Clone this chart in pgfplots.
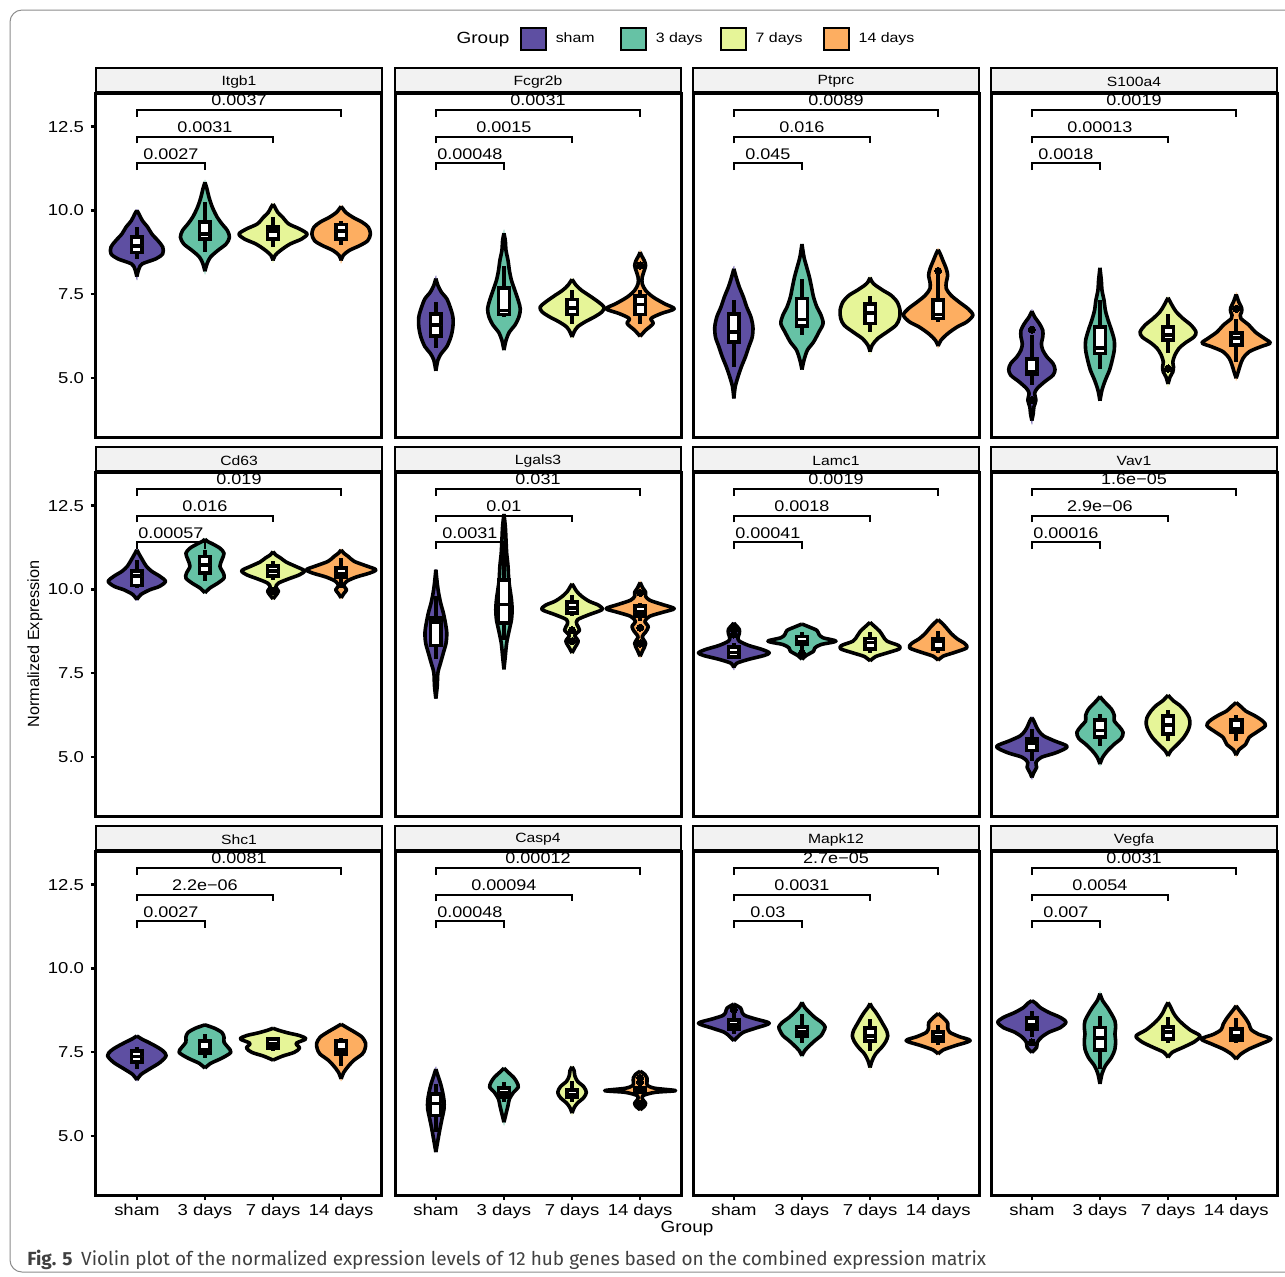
\documentclass[border=0pt]{standalone}
\usepackage{fontspec}
\setmainfont[FakeStretch=1.17]{Liberation Sans}
\newfontfamily\plainsans{Liberation Sans}
\newfontfamily\capfont{Fira Sans}
\usepackage{pgfplots}
\pgfplotsset{compat=1.18}
\usepackage{pgfplotstable}
\usepgfplotslibrary{statistics}

\definecolor{cSham}{HTML}{5E4FA2}
\definecolor{cThree}{HTML}{66C2A5}
\definecolor{cSeven}{HTML}{E6F598}
\definecolor{cFourteen}{HTML}{FDAE61}
\definecolor{stripbg}{RGB}{242,242,242}

\newcommand\ticktext{\fontsize{7.9}{9}\selectfont}
\newcommand\titletext{\fontsize{8.1}{9.5}\selectfont}
\newcommand\striptext{\fontsize{6.7}{8}\selectfont}
\newcommand\ptext{\fontsize{7.7}{9}\selectfont}
\newcommand\legtext{\fontsize{6.8}{8}\selectfont}

% violin profiles: group g, expression value v, half width w (x units)
\pgfplotstableread[row sep=\\]{g v w\\
1 8.03 0\\ 1 8.26 0.03\\ 1 8.41 0.08\\ 1 8.56 0.28\\ 1 8.71 0.38\\ 1 8.91 0.38\\ 1 9.10 0.31\\ 1 9.30 0.22\\ 1 9.50 0.16\\ 1 9.70 0.08\\ 1 9.90 0.03\\ 1 10.0 0\\
2 8.19 0\\ 2 8.41 0.03\\ 2 8.61 0.08\\ 2 8.81 0.19\\ 2 9.0 0.31\\ 2 9.20 0.36\\ 2 9.40 0.33\\ 2 9.60 0.25\\ 2 9.80 0.18\\ 2 10.09 0.11\\ 2 10.39 0.06\\ 2 10.64 0.03\\ 2 10.84 0\\
3 8.51 0\\ 3 8.66 0.03\\ 3 8.81 0.11\\ 3 9.0 0.25\\ 3 9.15 0.42\\ 3 9.30 0.50\\ 3 9.45 0.39\\ 3 9.60 0.23\\ 3 9.80 0.14\\ 3 9.94 0.07\\ 3 10.09 0.03\\ 3 10.19 0\\
4 8.51 0\\ 4 8.66 0.03\\ 4 8.81 0.12\\ 4 8.96 0.28\\ 4 9.10 0.39\\ 4 9.30 0.43\\ 4 9.50 0.40\\ 4 9.65 0.31\\ 4 9.80 0.17\\ 4 9.94 0.07\\ 4 10.04 0.03\\ 4 10.12 0\\
}\tItgb

\pgfplotstableread[row sep=\\]{g v w\\
1 5.22 0\\ 1 5.54 0.03\\ 1 5.74 0.08\\ 1 5.94 0.16\\ 1 6.23 0.22\\ 1 6.53 0.25\\ 1 6.83 0.25\\ 1 7.12 0.21\\ 1 7.37 0.16\\ 1 7.57 0.08\\ 1 7.77 0.03\\ 1 7.97 0\\
2 5.84 0\\ 2 6.13 0.03\\ 2 6.38 0.08\\ 2 6.58 0.16\\ 2 6.83 0.22\\ 2 7.07 0.24\\ 2 7.32 0.21\\ 2 7.62 0.16\\ 2 7.92 0.11\\ 2 8.21 0.08\\ 2 8.51 0.06\\ 2 8.81 0.03\\ 2 9.10 0.02\\ 2 9.32 0\\
3 6.23 0\\ 3 6.38 0.03\\ 3 6.53 0.08\\ 3 6.68 0.19\\ 3 6.83 0.33\\ 3 6.98 0.44\\ 3 7.12 0.47\\ 3 7.27 0.39\\ 3 7.47 0.25\\ 3 7.62 0.14\\ 3 7.77 0.06\\ 3 7.95 0\\
4 6.25 0\\ 4 6.43 0.08\\ 4 6.63 0.19\\ 4 6.78 0.16\\ 4 6.93 0.31\\ 4 7.07 0.5\\ 4 7.22 0.36\\ 4 7.42 0.19\\ 4 7.62 0.08\\ 4 7.82 0.03\\ 4 8.01 0.03\\ 4 8.21 0.06\\ 4 8.36 0.08\\ 4 8.51 0.06\\ 4 8.66 0.02\\ 4 8.76 0\\
}\tFcgr

\pgfplotstableread[row sep=\\]{g v w\\
1 4.40 0\\ 1 4.75 0.02\\ 1 5.04 0.06\\ 1 5.34 0.11\\ 1 5.64 0.17\\ 1 5.94 0.22\\ 1 6.23 0.27\\ 1 6.53 0.28\\ 1 6.83 0.25\\ 1 7.12 0.19\\ 1 7.42 0.14\\ 1 7.72 0.08\\ 1 7.97 0.04\\ 1 8.26 0\\
2 5.26 0\\ 2 5.54 0.03\\ 2 5.84 0.08\\ 2 6.08 0.17\\ 2 6.38 0.25\\ 2 6.63 0.31\\ 2 6.88 0.28\\ 2 7.12 0.22\\ 2 7.42 0.17\\ 2 7.72 0.14\\ 2 8.01 0.11\\ 2 8.31 0.07\\ 2 8.61 0.03\\ 2 9.0 0\\
3 5.79 0\\ 3 5.98 0.03\\ 3 6.18 0.11\\ 3 6.38 0.25\\ 3 6.58 0.38\\ 3 6.78 0.43\\ 3 7.02 0.44\\ 3 7.27 0.40\\ 3 7.47 0.31\\ 3 7.62 0.19\\ 3 7.77 0.08\\ 3 7.87 0.03\\ 3 8.0 0\\
4 5.96 0\\ 4 6.13 0.04\\ 4 6.33 0.14\\ 4 6.53 0.28\\ 4 6.68 0.42\\ 4 6.88 0.51\\ 4 7.07 0.44\\ 4 7.27 0.31\\ 4 7.47 0.19\\ 4 7.67 0.12\\ 4 7.87 0.12\\ 4 8.06 0.14\\ 4 8.26 0.12\\ 4 8.51 0.07\\ 4 8.71 0.03\\ 4 8.83 0\\
}\tPtprc

\pgfplotstableread[row sep=\\]{g v w\\
1 3.74 0\\ 1 3.95 0.02\\ 1 4.15 0.03\\ 1 4.35 0.06\\ 1 4.55 0.04\\ 1 4.70 0.08\\ 1 4.90 0.19\\ 1 5.09 0.31\\ 1 5.26 0.34\\ 1 5.44 0.31\\ 1 5.64 0.22\\ 1 5.84 0.16\\ 1 6.03 0.14\\ 1 6.23 0.16\\ 1 6.43 0.16\\ 1 6.63 0.11\\ 1 6.83 0.04\\ 1 7.0 0\\
2 4.33 0\\ 2 4.65 0.03\\ 2 4.95 0.08\\ 2 5.24 0.14\\ 2 5.54 0.18\\ 2 5.84 0.21\\ 2 6.13 0.21\\ 2 6.43 0.17\\ 2 6.73 0.12\\ 2 7.02 0.08\\ 2 7.32 0.06\\ 2 7.62 0.03\\ 2 7.92 0.02\\ 2 8.29 0\\
3 4.83 0\\ 3 5.04 0.03\\ 3 5.19 0.07\\ 3 5.34 0.08\\ 3 5.49 0.07\\ 3 5.69 0.1\\ 3 5.89 0.16\\ 3 6.05 0.25\\ 3 6.23 0.38\\ 3 6.38 0.41\\ 3 6.58 0.34\\ 3 6.78 0.22\\ 3 6.98 0.12\\ 3 7.17 0.06\\ 3 7.4 0\\
4 5.0 0\\ 4 5.19 0.03\\ 4 5.39 0.06\\ 4 5.59 0.1\\ 4 5.79 0.19\\ 4 5.94 0.36\\ 4 6.05 0.5\\ 4 6.18 0.42\\ 4 6.38 0.28\\ 4 6.58 0.19\\ 4 6.78 0.07\\ 4 6.88 0.06\\ 4 6.98 0.08\\ 4 7.10 0.08\\ 4 7.27 0.04\\ 4 7.5 0\\
}\tSoo

\pgfplotstableread[row sep=\\]{g v w\\
1 9.70 0\\ 1 9.85 0.06\\ 1 9.99 0.19\\ 1 10.09 0.33\\ 1 10.24 0.42\\ 1 10.39 0.34\\ 1 10.54 0.22\\ 1 10.69 0.14\\ 1 10.89 0.08\\ 1 11.03 0.04\\ 1 11.18 0\\
2 9.90 0\\ 2 10.04 0.07\\ 2 10.19 0.19\\ 2 10.34 0.28\\ 2 10.49 0.27\\ 2 10.69 0.22\\ 2 10.89 0.25\\ 2 11.08 0.28\\ 2 11.23 0.22\\ 2 11.36 0.11\\ 2 11.43 0.04\\ 2 11.5 0\\
3 9.72 0\\ 3 9.82 0.04\\ 3 9.95 0.08\\ 3 10.07 0.04\\ 3 10.19 0.08\\ 3 10.31 0.22\\ 3 10.44 0.39\\ 3 10.56 0.46\\ 3 10.69 0.33\\ 3 10.82 0.19\\ 3 10.94 0.11\\ 3 11.03 0.04\\ 3 11.13 0\\
4 9.75 0\\ 4 9.88 0.04\\ 4 9.99 0.08\\ 4 10.11 0.04\\ 4 10.24 0.08\\ 4 10.37 0.22\\ 4 10.49 0.42\\ 4 10.59 0.51\\ 4 10.71 0.36\\ 4 10.84 0.19\\ 4 10.99 0.1\\ 4 11.08 0.04\\ 4 11.18 0\\
}\tCd

\pgfplotstableread[row sep=\\]{g v w\\
1 6.75 0\\ 1 7.12 0.02\\ 1 7.52 0.03\\ 1 7.82 0.07\\ 1 8.11 0.11\\ 1 8.41 0.15\\ 1 8.71 0.16\\ 1 9.0 0.14\\ 1 9.30 0.11\\ 1 9.60 0.07\\ 1 9.90 0.04\\ 1 10.19 0.02\\ 1 10.59 0\\
2 7.62 0\\ 2 8.01 0.02\\ 2 8.41 0.04\\ 2 8.81 0.08\\ 2 9.10 0.11\\ 2 9.40 0.12\\ 2 9.70 0.11\\ 2 9.99 0.09\\ 2 10.29 0.07\\ 2 10.69 0.06\\ 2 11.08 0.04\\ 2 11.48 0.03\\ 2 11.88 0.02\\ 2 12.25 0\\
3 8.11 0\\ 3 8.26 0.04\\ 3 8.46 0.09\\ 3 8.63 0.04\\ 3 8.79 0.11\\ 3 8.96 0.07\\ 3 9.10 0.08\\ 3 9.25 0.25\\ 3 9.40 0.44\\ 3 9.53 0.39\\ 3 9.65 0.25\\ 3 9.80 0.14\\ 3 9.94 0.07\\ 3 10.07 0.03\\ 3 10.17 0\\
4 8.01 0\\ 4 8.19 0.04\\ 4 8.39 0.08\\ 4 8.59 0.03\\ 4 8.73 0.08\\ 4 8.89 0.12\\ 4 9.05 0.07\\ 4 9.20 0.14\\ 4 9.32 0.33\\ 4 9.43 0.5\\ 4 9.55 0.33\\ 4 9.68 0.14\\ 4 9.80 0.08\\ 4 9.92 0.08\\ 4 10.04 0.04\\ 4 10.21 0\\
}\tLgals

\pgfplotstableread[row sep=\\]{g v w\\
1 7.67 0\\ 1 7.80 0.04\\ 1 7.92 0.22\\ 1 8.03 0.44\\ 1 8.11 0.52\\ 1 8.21 0.42\\ 1 8.33 0.22\\ 1 8.46 0.08\\ 1 8.56 0.06\\ 1 8.69 0.08\\ 1 8.81 0.08\\ 1 8.91 0.04\\ 1 9.0 0\\
2 7.92 0\\ 2 8.03 0.06\\ 2 8.16 0.17\\ 2 8.26 0.19\\ 2 8.36 0.28\\ 2 8.46 0.5\\ 2 8.56 0.31\\ 2 8.66 0.25\\ 2 8.78 0.22\\ 2 8.88 0.11\\ 2 8.97 0\\
3 7.87 0\\ 3 8.0 0.08\\ 3 8.11 0.25\\ 3 8.23 0.43\\ 3 8.33 0.42\\ 3 8.46 0.25\\ 3 8.61 0.19\\ 3 8.76 0.14\\ 3 8.91 0.06\\ 3 9.02 0\\
4 7.89 0\\ 4 8.01 0.07\\ 4 8.13 0.25\\ 4 8.26 0.42\\ 4 8.39 0.39\\ 4 8.53 0.28\\ 4 8.69 0.19\\ 4 8.86 0.12\\ 4 8.99 0.06\\ 4 9.10 0\\
}\tLamc

\pgfplotstableread[row sep=\\]{g v w\\
1 4.40 0\\ 1 4.55 0.03\\ 1 4.70 0.07\\ 1 4.85 0.06\\ 1 5.0 0.14\\ 1 5.14 0.36\\ 1 5.32 0.52\\ 1 5.49 0.33\\ 1 5.64 0.17\\ 1 5.79 0.1\\ 1 5.94 0.06\\ 1 6.08 0.03\\ 1 6.18 0\\
2 4.80 0\\ 2 5.0 0.04\\ 2 5.19 0.11\\ 2 5.39 0.21\\ 2 5.56 0.31\\ 2 5.74 0.34\\ 2 5.92 0.28\\ 2 6.08 0.21\\ 2 6.25 0.21\\ 2 6.43 0.17\\ 2 6.58 0.1\\ 2 6.71 0.04\\ 2 6.81 0\\
3 5.04 0\\ 3 5.19 0.04\\ 3 5.39 0.14\\ 3 5.59 0.23\\ 3 5.79 0.29\\ 3 5.98 0.32\\ 3 6.18 0.31\\ 3 6.38 0.25\\ 3 6.55 0.17\\ 3 6.68 0.08\\ 3 6.85 0\\
4 5.06 0\\ 4 5.22 0.04\\ 4 5.39 0.14\\ 4 5.59 0.19\\ 4 5.76 0.31\\ 4 5.94 0.43\\ 4 6.08 0.39\\ 4 6.23 0.28\\ 4 6.38 0.14\\ 4 6.51 0.07\\ 4 6.63 0\\
}\tVav

\pgfplotstableread[row sep=\\]{g v w\\
1 6.68 0\\ 1 6.84 0.06\\ 1 7.01 0.19\\ 1 7.20 0.34\\ 1 7.40 0.43\\ 1 7.55 0.38\\ 1 7.67 0.29\\ 1 7.80 0.17\\ 1 7.90 0.07\\ 1 7.99 0\\
2 7.03 0\\ 2 7.17 0.08\\ 2 7.33 0.25\\ 2 7.50 0.38\\ 2 7.65 0.34\\ 2 7.80 0.28\\ 2 7.95 0.28\\ 2 8.09 0.25\\ 2 8.22 0.14\\ 2 8.32 0\\
3 7.27 0\\ 3 7.39 0.14\\ 3 7.50 0.31\\ 3 7.63 0.39\\ 3 7.77 0.34\\ 3 7.90 0.48\\ 3 8.0 0.39\\ 3 8.08 0.22\\ 3 8.16 0.08\\ 3 8.22 0\\
4 6.71 0\\ 4 6.91 0.04\\ 4 7.10 0.11\\ 4 7.27 0.19\\ 4 7.45 0.31\\ 4 7.60 0.35\\ 4 7.77 0.36\\ 4 7.95 0.31\\ 4 8.09 0.21\\ 4 8.22 0.1\\ 4 8.34 0\\
}\tShc

\pgfplotstableread[row sep=\\]{g v w\\
1 4.53 0\\ 1 4.88 0.03\\ 1 5.22 0.06\\ 1 5.52 0.09\\ 1 5.82 0.12\\ 1 6.06 0.12\\ 1 6.31 0.1\\ 1 6.56 0.07\\ 1 6.81 0.03\\ 1 7.0 0\\
2 5.42 0\\ 2 5.67 0.03\\ 2 5.92 0.06\\ 2 6.11 0.08\\ 2 6.31 0.14\\ 2 6.46 0.21\\ 2 6.61 0.19\\ 2 6.76 0.14\\ 2 6.91 0.06\\ 2 7.03 0\\
3 5.69 0\\ 3 5.85 0.03\\ 3 5.99 0.08\\ 3 6.15 0.17\\ 3 6.31 0.21\\ 3 6.48 0.17\\ 3 6.64 0.08\\ 3 6.81 0.04\\ 3 6.96 0.03\\ 3 7.07 0\\
4 5.79 0\\ 4 5.89 0.06\\ 4 5.99 0.08\\ 4 6.09 0.04\\ 4 6.21 0.04\\ 4 6.31 0.22\\ 4 6.36 0.52\\ 4 6.43 0.22\\ 4 6.51 0.11\\ 4 6.61 0.1\\ 4 6.74 0.1\\ 4 6.84 0.07\\ 4 6.94 0\\
}\tCasp

\pgfplotstableread[row sep=\\]{g v w\\
1 7.85 0\\ 1 7.97 0.06\\ 1 8.10 0.14\\ 1 8.23 0.33\\ 1 8.37 0.52\\ 1 8.50 0.31\\ 1 8.60 0.16\\ 1 8.70 0.12\\ 1 8.82 0.1\\ 1 8.94 0\\
2 7.40 0\\ 2 7.55 0.04\\ 2 7.70 0.11\\ 2 7.85 0.19\\ 2 8.0 0.28\\ 2 8.14 0.32\\ 2 8.26 0.34\\ 2 8.39 0.29\\ 2 8.54 0.19\\ 2 8.69 0.11\\ 2 8.84 0.04\\ 2 8.99 0\\
3 7.05 0\\ 3 7.25 0.03\\ 3 7.45 0.08\\ 3 7.65 0.17\\ 3 7.82 0.23\\ 3 7.99 0.26\\ 3 8.16 0.24\\ 3 8.34 0.19\\ 3 8.52 0.14\\ 3 8.71 0.08\\ 3 8.84 0.03\\ 3 8.96 0\\
4 7.45 0\\ 4 7.57 0.07\\ 4 7.70 0.25\\ 4 7.85 0.47\\ 4 7.97 0.31\\ 4 8.10 0.17\\ 4 8.24 0.14\\ 4 8.38 0.14\\ 4 8.52 0.08\\ 4 8.66 0\\
}\tMapk

\pgfplotstableread[row sep=\\]{g v w\\
1 7.50 0\\ 1 7.65 0.07\\ 1 7.80 0.08\\ 1 7.95 0.14\\ 1 8.10 0.25\\ 1 8.24 0.42\\ 1 8.40 0.5\\ 1 8.54 0.42\\ 1 8.69 0.25\\ 1 8.84 0.12\\ 1 8.96 0.06\\ 1 9.04 0\\
2 6.56 0\\ 2 6.86 0.03\\ 2 7.10 0.08\\ 2 7.35 0.17\\ 2 7.60 0.22\\ 2 7.85 0.23\\ 2 8.05 0.22\\ 2 8.24 0.23\\ 2 8.44 0.22\\ 2 8.64 0.17\\ 2 8.84 0.11\\ 2 9.04 0.04\\ 2 9.25 0\\
3 7.35 0\\ 3 7.50 0.06\\ 3 7.65 0.22\\ 3 7.82 0.39\\ 3 7.99 0.47\\ 3 8.16 0.33\\ 3 8.34 0.22\\ 3 8.50 0.14\\ 3 8.67 0.08\\ 3 8.84 0.04\\ 3 8.99 0\\
4 7.30 0\\ 4 7.45 0.07\\ 4 7.60 0.19\\ 4 7.75 0.36\\ 4 7.90 0.51\\ 4 8.04 0.33\\ 4 8.18 0.22\\ 4 8.34 0.19\\ 4 8.51 0.14\\ 4 8.67 0.08\\ 4 8.80 0.03\\ 4 8.89 0\\
}\tVegf

\pgfplotsset{
  vfill/.style={smooth, line width=0.4pt},
  vline/.style={smooth, black, line width=1.8pt, line join=round},
  brk/.style={black, line width=1pt},
  bxstyle/.style={black, fill=white, solid, line width=1.9pt,
    mark=*, mark size=1.8pt, mark options={fill=black, draw=black, line width=0pt},
    boxplot/draw direction=y, boxplot/box extend=0.16, boxplot/whisker extend=0},
  panel/.style={
    width=143pt, height=172pt, scale only axis, anchor=north west,
    xmin=0.4, xmax=4.6, ymin=3.25, ymax=13.5, clip=false,
    axis line style={line width=1.5pt},
    tick style={line width=1.1pt, black},
    major tick length=2.5pt, tick align=outside, tick pos=left,
    xtick={1,2,3,4}, xticklabels={sham,3 days,7 days,14 days},
    ytick={5,7.5,10,12.5}, yticklabels={5.0,7.5,10.0,12.5},
    ticklabel style={font=\ticktext},
    xticklabel style={yshift=1.5pt},
    /pgf/number format/assume math mode=true},
  notleft/.style={ytick=\empty},
  notbottom/.style={xtick=\empty}
}

% one violin: table, group position, fill colour
\newcommand\violin[3]{%
  \addplot[vfill, fill=#3, draw=#3, restrict expr to domain={\thisrow{g}}{#2:#2}]
    table[x expr=#2+\thisrow{w}, y=v] {#1} -- cycle;
  \addplot[vfill, fill=#3, draw=#3, restrict expr to domain={\thisrow{g}}{#2:#2}]
    table[x expr=#2-\thisrow{w}, y=v] {#1} -- cycle;
  \addplot[vline, restrict expr to domain={\thisrow{g}}{#2:#2}]
    table[x expr=#2+\thisrow{w}, y=v] {#1};
  \addplot[vline, restrict expr to domain={\thisrow{g}}{#2:#2}]
    table[x expr=#2-\thisrow{w}, y=v] {#1};}
\newcommand\violins[1]{%
  \violin{#1}{1}{cSham}\violin{#1}{2}{cThree}\violin{#1}{3}{cSeven}\violin{#1}{4}{cFourteen}}
% box: position, lower whisker, Q1, median, Q3, upper whisker, outliers
\newcommand\bx[7]{%
  \addplot[bxstyle, boxplot prepared={draw position=#1, lower whisker=#2,
    lower quartile=#3, median=#4, upper quartile=#5, upper whisker=#6}] coordinates {#7};}
% sham vs 3, 7 and 14 days
\newcommand\brackets[3]{%
  \addplot[brk] coordinates {(1,11.2) (1,11.4) (2,11.4) (2,11.2)};
  \addplot[brk] coordinates {(1,12.0) (1,12.2) (3,12.2) (3,12.0)};
  \addplot[brk] coordinates {(1,12.8) (1,13.0) (4,13.0) (4,12.8)};
  \node[anchor=base, font=\ptext, inner sep=0pt] at ([yshift=2pt]axis cs:1.5,11.4) {#1};
  \node[anchor=base, font=\ptext, inner sep=0pt] at ([yshift=2pt]axis cs:2,12.2) {#2};
  \node[anchor=base, font=\ptext, inner sep=0pt] at ([yshift=2pt]axis cs:2.5,13.0) {#3};}
\newcommand\strip[1]{%
  \draw[fill=stripbg, line width=0.8pt] (rel axis cs:0,1) rectangle ([yshift=12.5pt]rel axis cs:1,1);
  \node[font=\striptext, inner sep=0pt] at ([yshift=5.7pt]rel axis cs:0.5,1) {#1};
  \draw[line width=2.2pt] (rel axis cs:0,1) -- (rel axis cs:1,1);}
\newcommand\key[1]{\addlegendimage{legend image code/.code={%
  \draw[fill=#1, draw=black, line width=1pt] (0pt,-5.5pt) rectangle (12.5pt,5.5pt);}}}

\begin{document}
\begin{tikzpicture}
\useasboundingbox (0pt,0pt) rectangle (642.5pt,-638pt);
\draw[black!45, line width=0.5pt, rounded corners=6pt] (5pt,-5pt) rectangle (660pt,-636pt);

% ---- row 1 ----
\begin{axis}[panel, notbottom, at={(48pt,-46.5pt)},
  legend columns=4,
  legend style={at={(1.4825,1.157)}, anchor=west, draw=none, fill=none, inner sep=0pt,
    font=\legtext, /tikz/every even column/.append style={column sep=6.8pt},
    /tikz/every odd column/.append style={column sep=2.2pt}}]
\key{cSham}\addlegendentry{\makebox[23.5pt][l]{sham}}
\key{cThree}\addlegendentry{3 days}
\key{cSeven}\addlegendentry{\makebox[25pt][l]{7 days}}
\key{cFourteen}\addlegendentry{14 days}
\violins{\tItgb}
\bx{1}{8.56}{8.75}{8.95}{9.2}{9.5}{}
\bx{2}{8.76}{9.15}{9.3}{9.65}{10.24}{}
\bx{3}{8.9}{9.15}{9.38}{9.5}{9.8}{}
\bx{4}{8.96}{9.15}{9.38}{9.58}{9.7}{}
\brackets{0.0027}{0.0031}{0.0037}
\strip{Itgb1}
\end{axis}

\begin{axis}[panel, notbottom, notleft, at={(197.5pt,-46.5pt)}]
\violins{\tFcgr}
\bx{1}{5.89}{6.25}{6.58}{6.92}{7.27}{}
\bx{2}{6.82}{6.9}{7.02}{7.68}{8.36}{}
\bx{3}{6.63}{6.9}{7.1}{7.35}{7.62}{}
\bx{4}{6.63}{6.9}{7.2}{7.45}{7.64}{(4,8.36)}
\brackets{0.00048}{0.0015}{0.0031}
\strip{Fcgr2b}
\end{axis}

\begin{axis}[panel, notbottom, notleft, at={(346.5pt,-46.5pt)}]
\violins{\tPtprc}
\bx{1}{5.34}{6.08}{6.38}{6.92}{7.32}{}
\bx{2}{6.28}{6.55}{6.75}{7.38}{7.97}{}
\bx{3}{6.38}{6.63}{6.95}{7.22}{7.44}{}
\bx{4}{6.68}{6.78}{6.9}{7.34}{8.1}{(4,8.2)}
\brackets{0.045}{0.016}{0.0089}
\strip{Ptprc}
\end{axis}

\begin{axis}[panel, notbottom, notleft, at={(495.5pt,-46.5pt)}]
\violins{\tSoo}
\bx{1}{4.8}{5.12}{5.2}{5.58}{6.3}{(1,6.45) (1,4.35)}
\bx{2}{5.29}{5.74}{5.9}{6.53}{7.32}{}
\bx{3}{5.74}{6.13}{6.3}{6.52}{6.93}{(3,5.29)}
\bx{4}{5.49}{6.0}{6.2}{6.35}{6.78}{(4,7.07)}
\brackets{0.0018}{0.00013}{0.0019}
\strip{S100a4}
\end{axis}

% ---- row 2 ----
\begin{axis}[panel, notbottom, at={(48pt,-236pt)}]
\violins{\tCd}
\bx{1}{10.04}{10.12}{10.4}{10.55}{10.89}{}
\bx{2}{10.24}{10.48}{10.72}{10.98}{11.18}{}
\bx{3}{10.29}{10.4}{10.55}{10.7}{10.84}{(3,9.95)}
\bx{4}{10.05}{10.37}{10.47}{10.64}{10.94}{}
\brackets{0.00057}{0.016}{0.019}
\strip{Cd63}
\end{axis}

\begin{axis}[panel, notbottom, notleft, at={(197.5pt,-236pt)}]
\violins{\tLgals}
\bx{1}{7.92}{8.33}{9.02}{9.15}{9.8}{}
\bx{2}{8.5}{9.0}{9.55}{10.29}{11.2}{}
\bx{3}{9.2}{9.3}{9.45}{9.62}{9.85}{(3,8.79) (3,8.46)}
\bx{4}{9.05}{9.22}{9.32}{9.5}{9.6}{(4,9.9) (4,8.86) (4,8.39)}
\brackets{0.0031}{0.01}{0.031}
\strip{Lgals3}
\end{axis}

\begin{axis}[panel, notbottom, notleft, at={(346.5pt,-236pt)}]
\violins{\tLamc}
\bx{1}{7.92}{8.0}{8.12}{8.28}{8.41}{(1,8.66) (1,8.79)}
\bx{2}{8.21}{8.36}{8.45}{8.6}{8.73}{(2,8.11)}
\bx{3}{8.11}{8.23}{8.42}{8.54}{8.73}{}
\bx{4}{8.11}{8.22}{8.45}{8.54}{8.76}{}
\brackets{0.00041}{0.0018}{0.0019}
\strip{Lamc1}
\end{axis}

\begin{axis}[panel, notbottom, notleft, at={(495.5pt,-236pt)}]
\violins{\tVav}
\bx{1}{4.9}{5.2}{5.42}{5.54}{5.84}{}
\bx{2}{5.34}{5.6}{5.8}{6.1}{6.28}{}
\bx{3}{5.49}{5.7}{5.97}{6.22}{6.41}{}
\bx{4}{5.49}{5.75}{5.85}{6.1}{6.25}{}
\brackets{0.00016}{2.9e−06}{1.6e−05}
\strip{Vav1}
\end{axis}

% ---- row 3 ----
\begin{axis}[panel, at={(48pt,-425.5pt)}]
\violins{\tShc}
\bx{1}{7.01}{7.22}{7.38}{7.55}{7.67}{}
\bx{2}{7.33}{7.47}{7.56}{7.85}{8.04}{}
\bx{3}{7.55}{7.62}{7.75}{7.9}{7.97}{}
\bx{4}{7.1}{7.45}{7.58}{7.84}{7.93}{}
\brackets{0.0027}{2.2e−06}{0.0081}
\strip{Shc1}
\end{axis}

\begin{axis}[panel, notleft, at={(197.5pt,-425.5pt)}]
\violins{\tCasp}
\bx{1}{5.12}{5.62}{5.98}{6.26}{6.56}{}
\bx{2}{6.01}{6.18}{6.28}{6.45}{6.61}{}
\bx{3}{6.01}{6.17}{6.24}{6.38}{6.66}{}
\bx{4}{6.26}{6.31}{6.36}{6.43}{6.51}{(4,6.62) (4,6.74) (4,5.97)}
\brackets{0.00048}{0.00094}{0.00012}
\strip{Casp4}
\end{axis}

\begin{axis}[panel, notleft, at={(346.5pt,-425.5pt)}]
\violins{\tMapk}
\bx{1}{8.05}{8.2}{8.32}{8.46}{8.67}{(1,8.77)}
\bx{2}{7.77}{8.0}{8.1}{8.26}{8.63}{}
\bx{3}{7.55}{7.85}{8.0}{8.22}{8.49}{}
\bx{4}{7.73}{7.84}{7.97}{8.1}{8.32}{}
\brackets{0.03}{0.0031}{2.7e−05}
\strip{Mapk12}
\end{axis}

\begin{axis}[panel, notleft, at={(495.5pt,-425.5pt)}]
\violins{\tVegf}
\bx{1}{7.95}{8.2}{8.32}{8.52}{8.74}{(1,7.8)}
\bx{2}{7.01}{7.57}{7.93}{8.24}{8.59}{}
\bx{3}{7.77}{7.9}{8.1}{8.26}{8.54}{}
\bx{4}{7.77}{7.88}{8.0}{8.2}{8.51}{}
\brackets{0.007}{0.0054}{0.0031}
\strip{Vegfa}
\end{axis}

% titles and caption
\node[font=\titletext] at (241.5pt,-20pt) {Group};
\node[font=\titletext] at (343.5pt,-614.5pt) {Group};
\node[font=\plainsans\fontsize{8.1}{9.5}\selectfont, rotate=90] at (17.5pt,-322pt) {Normalized Expression};
\node[anchor=base west, inner sep=0pt, text=black!75,
  font=\capfont\fontsize{9.5}{11}\selectfont] at (13.5pt,-632.5pt)
  {\textbf{Fig. 5}\hspace{0.45em}Violin plot of the normalized expression levels of 12 hub genes based on the combined expression matrix};
\end{tikzpicture}
\end{document}
